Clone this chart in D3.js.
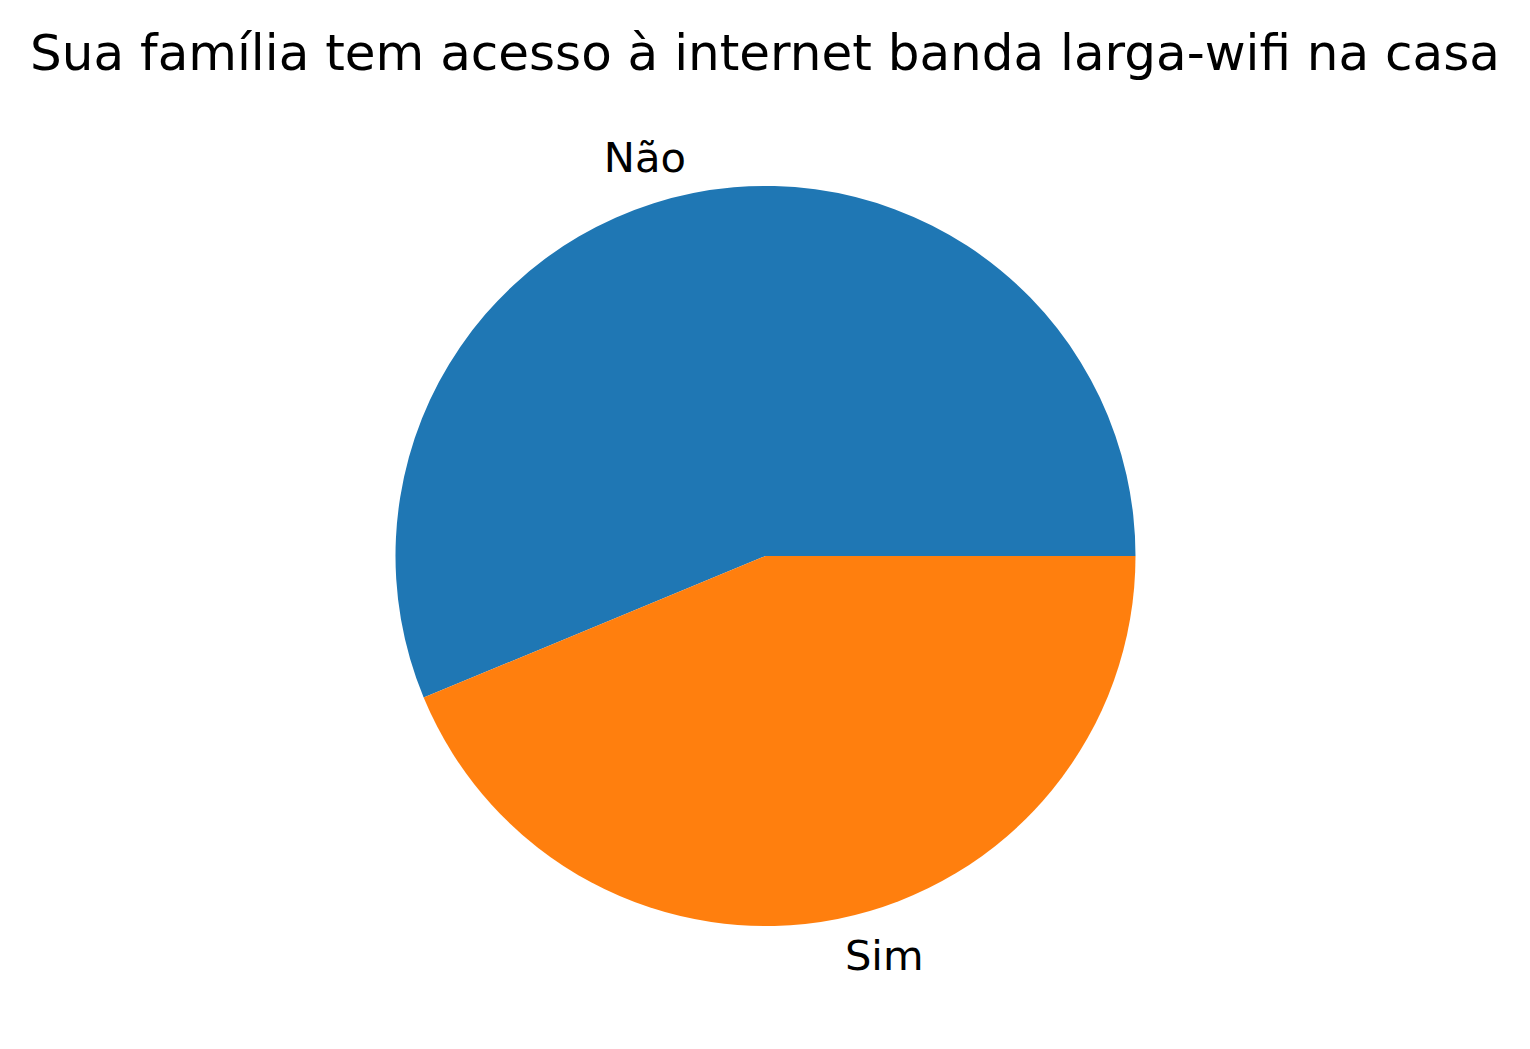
<!DOCTYPE html>
<html>
<head>
	<meta charset="utf-8">
	<title>Sua família tem acesso à internet banda larga-wifi na casa</title>
	<script src="https://d3js.org/d3.v7.min.js"></script>
	<style>
		body { margin: 0; background: #fff; }
		text { font-family: "DejaVu Sans", sans-serif; fill: #000; }
	</style>
</head>
<body>
	<div id="chart"></div>

	<script type="text/javascript">
		// data (Não ~56%, Sim ~44%)
		var labels = ["Não", "Sim"];
		var values = [56.25, 43.75];
		var colors = ["#1f77b4", "#ff7f0e"];

		var width = 1530;
		var height = 1049;
		var cx = 765.5, cy = 556, radius = 370;

		var svg = d3.select("#chart")
			.append("svg")
			.attr("width", width)
			.attr("height", height);

		svg.append("text")
			.attr("x", 765)
			.attr("y", 70)
			.style("font-size", "50px")
			.style("text-anchor", "middle")
			.text("Sua família tem acesso à internet banda larga-wifi na casa");

		// matplotlib style: start at 3 o'clock, go counterclockwise
		var pie = d3.pie()
			.sort(null)
			.startAngle(Math.PI / 2)
			.endAngle(Math.PI / 2 - 2 * Math.PI);

		var arc = d3.arc().innerRadius(0).outerRadius(radius);

		var g = svg.append("g")
			.attr("transform", "translate(" + cx + "," + cy + ")");

		var arcs = pie(values);

		g.selectAll("path")
			.data(arcs)
			.enter().append("path")
			.attr("d", arc)
			.style("fill", function(d, i) { return colors[i]; });

		g.selectAll("text.lbl")
			.data(arcs)
			.enter().append("text")
			.attr("class", "lbl")
			.style("font-size", "41.7px")
			.attr("x", function(d) {
				var a = (d.startAngle + d.endAngle) / 2;
				return 1.1 * radius * Math.sin(a);
			})
			.attr("y", function(d) {
				var a = (d.startAngle + d.endAngle) / 2;
				return -1.1 * radius * Math.cos(a);
			})
			.attr("dy", "0.36em")
			.style("text-anchor", function(d) {
				var a = (d.startAngle + d.endAngle) / 2;
				return Math.sin(a) < 0 ? "end" : "start";
			})
			.text(function(d, i) { return labels[i]; });
	</script>
</body>
</html>
